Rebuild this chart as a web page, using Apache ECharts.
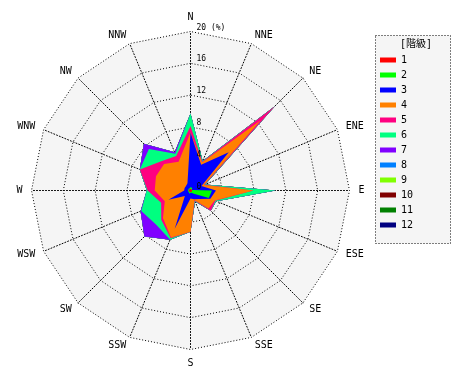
<!DOCTYPE html>
<html><head><meta charset="utf-8">
<script src="https://cdn.jsdelivr.net/npm/echarts@6/dist/echarts.min.js"></script>
<style>html,body{margin:0;padding:0;background:#fff}#c{width:470px;height:380px}</style>
</head><body><div id="c"></div>
<script>
// 16 wind directions, clockwise from N
const directions = ['N','NNE','NE','ENE','E','ESE','SE','SSE','S','SSW','SW','WSW','W','WNW','NW','NNW'];
// wind-speed classes (階級)
const classes = ['1','2','3','4','5','6','7','8','9','10','11','12'];
const classColors = ['#ff0000','#00ff00','#0000ff','#ff8000','#ff0080','#00ff80','#8000ff','#0080ff','#80ff00','#800000','#008000','#000080'];
// frequency (%) of each class per direction
const c1  = [0.2,0.2,0.2,0.2,0.2,0.2,0.2,0.2,0.2,0.2,0.2,0.2,0.2,0.2,0.2,0.2];
const c2  = [0.2,0.2,0.1,0.0,2.5,2.3,0.4,0.1,0.1,0.2,0.1,0.1,0.1,0.1,0.1,0.1];
const c3  = [6.9,3.1,6.5,1.3,0.5,0.2,0.9,0.9,0.7,4.8,0.7,2.7,0.5,0.5,0.5,0.7];
const c4  = [0.0,0.3,5.7,0.3,4.7,0.6,1.7,0.1,4.2,1.2,3.9,0.5,3.7,3.9,3.9,2.9];
const c5  = [0.8,0.1,2.5,0.1,0.0,0.1,0.4,0.1,0.0,0.1,0.3,0.5,0.9,2.2,0.5,0.8];
const c6  = [1.6,0.1,0.0,0.1,2.8,0.1,0.0,0.1,0.0,0.2,0.9,2.7,0.1,0.0,2.2,0.3];
const c7  = [0.0,0.0,0.0,0.0,0.0,0.0,0.0,0.0,0.0,0.0,2.1,0.1,0.0,0.0,0.9,0.2];
const c8  = [0,0,0,0,0,0,0,0,0,0,0,0,0,0,0,0];
const c9  = [0,0,0,0,0,0,0,0,0,0,0,0,0,0,0,0];
const c10 = [0,0,0,0,0,0,0,0,0,0,0,0,0,0,0,0];
const c11 = [0,0,0,0,0,0,0,0,0,0,0,0,0,0,0,0];
const c12 = [0,0,0,0,0,0,0,0,0,0,0,0,0,0,0,0];
const radiusTicks = [0,4,8,12,16,20];
const rMax = 20;

const perClass = [c1,c2,c3,c4,c5,c6,c7,c8,c9,c10,c11,c12];
// cumulative (stacked) frequencies
const cum = [];
perClass.forEach((arr,k)=>{
  cum.push(arr.map((v,i)=> +(v + (k>0?cum[k-1][i]:0)).toFixed(2)));
});
// ECharts radar runs counter-clockwise: reorder so directions go clockwise
const order = [0].concat(Array.from({length:15},(_,i)=>15-i));

const FONT = 'DejaVu Sans Mono, Noto Sans CJK JP, monospace';
const CX = 190.5, CY = 190.5, R = 159;
const series = [];
for (let k = classes.length-1; k >= 0; k--) {
  series.push({
    type:'radar', name: classes[k], symbol:'none', silent:true,
    lineStyle:{width:0, color: classColors[k]},
    itemStyle:{color: classColors[k]},
    areaStyle:{color: classColors[k], opacity:1},
    data:[{name: classes[k], value: order.map(i=>cum[k][i])}]
  });
}

const chart = echarts.init(document.getElementById('c'), null, {renderer:'canvas'});
chart.setOption({
  animation:false,
  backgroundColor:'#ffffff',
  textStyle:{fontFamily:FONT},
  title:{text:'[階級]', left:416, top:39, textAlign:'center', padding:0,
    textStyle:{fontSize:10, fontWeight:'normal', color:'#000', fontFamily:FONT}},
  graphic:[{type:'rect', left:375, top:35, z:-1,
    shape:{width:75, height:208},
    style:{fill:'#f5f5f5', stroke:'#000', lineWidth:1, lineDash:[1,2]}}],
  legend:{
    data: classes, orient:'vertical', left:380, top:54, padding:0,
    itemWidth:16, itemHeight:5, itemGap:3, icon:'rect',
    textStyle:{fontSize:10, color:'#000', fontFamily:FONT, lineHeight:12},
    selectedMode:false
  },
  radar:{
    center:[CX,CY], radius:R, startAngle:90, shape:'polygon', splitNumber:5,
    indicator: order.map(i=>({name:directions[i], min:0, max:rMax})),
    axisName:{color:'#000', fontSize:10, fontFamily:FONT},
    nameGap:9,
    splitArea:{show:true, areaStyle:{color:['#f5f5f5']}},
    splitLine:{lineStyle:{color:'#000', width:1, type:[1,2]}},
    axisLine:{lineStyle:{color:'#000', width:1, type:[1,2]}}
  },
  polar:{center:[CX,CY], radius:R},
  angleAxis:{type:'value', min:0, max:360, startAngle:90, show:false},
  radiusAxis:{type:'value', min:0, max:rMax, interval:4, z:20, zlevel:1,
    axisLine:{show:false}, axisTick:{show:false}, splitLine:{show:false},
    axisLabel:{fontSize:8, color:'#000', fontFamily:FONT, margin:-6, align:'left', verticalAlign:'bottom',
      formatter: v => v===rMax ? v+' (%)' : String(v)}},
  series: series
});
</script></body></html>
